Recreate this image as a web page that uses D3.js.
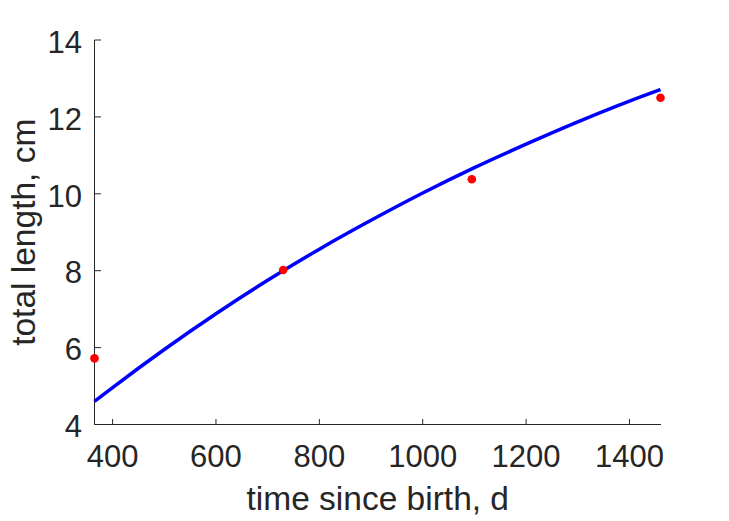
<!DOCTYPE html>
<html>
<head>
<meta charset="utf-8">
<script src="https://cdn.jsdelivr.net/npm/d3@7"></script>
<style>
  html, body { margin: 0; padding: 0; background: #fff; }
  svg { display: block; }
  text { font-family: "Liberation Sans", Arial, Helvetica, sans-serif; fill: #262626; }
</style>
</head>
<body>
<svg id="chart" width="729" height="521"></svg>
<script>
// Observed data points (age in days, total length in cm)
const obsAge = [365, 730, 1095, 1460];
const obsLength = [5.72, 8.02, 10.38, 12.5];

// Fitted growth curve
const fitAge = [365, 400, 500, 600, 700, 800, 900, 1000, 1100, 1200, 1300, 1400, 1460];
const fitLength = [4.6, 4.96, 5.95, 6.88, 7.75, 8.56, 9.31, 10.02, 10.68, 11.29, 11.87, 12.41, 12.71];

const xTicks = [400, 600, 800, 1000, 1200, 1400];
const yTicks = [4, 6, 8, 10, 12, 14];

const xLabel = "time since birth, d";
const yLabel = "total length, cm";

const svg = d3.select("#chart");
const axisColor = "#262626";

const x = d3.scaleLinear().domain([365, 1461]).range([94.5, 661]);
const y = d3.scaleLinear().domain([4, 14]).range([424.5, 40]);

// X axis
const gx = svg.append("g").attr("transform", `translate(0,${y(4)})`);
gx.append("line").attr("x1", x.range()[0]).attr("x2", x.range()[1])
  .attr("stroke", axisColor).attr("stroke-width", 1);
gx.selectAll(".tick").data(xTicks).enter().append("line")
  .attr("x1", d => x(d)).attr("x2", d => x(d)).attr("y1", 0).attr("y2", -5.5)
  .attr("stroke", axisColor).attr("stroke-width", 1);
gx.selectAll(".lbl").data(xTicks).enter().append("text")
  .attr("x", d => x(d)).attr("y", 42.5).attr("text-anchor", "middle")
  .attr("font-size", 31).text(d => d);

// Y axis
const gy = svg.append("g").attr("transform", `translate(${x(365)},0)`);
gy.append("line").attr("y1", y.range()[0]).attr("y2", y.range()[1])
  .attr("stroke", axisColor).attr("stroke-width", 1);
gy.selectAll(".tick").data(yTicks).enter().append("line")
  .attr("y1", d => y(d)).attr("y2", d => y(d)).attr("x1", 0).attr("x2", 6.5)
  .attr("stroke", axisColor).attr("stroke-width", 1);
gy.selectAll(".lbl").data(yTicks).enter().append("text")
  .attr("x", -12.5).attr("y", d => y(d)).attr("dy", "0.41em").attr("text-anchor", "end")
  .attr("font-size", 31).text(d => d);

// Axis labels
svg.append("text").attr("x", (x.range()[0] + x.range()[1]) / 2).attr("y", 510)
  .attr("text-anchor", "middle").attr("font-size", 33.5).text(xLabel);
svg.append("text").attr("transform", `translate(35,${(y.range()[0] + y.range()[1]) / 2}) rotate(-90)`)
  .attr("text-anchor", "middle").attr("font-size", 33.5).text(yLabel);

// Fitted curve
const line = d3.line().x((d, i) => x(fitAge[i])).y(d => y(d)).curve(d3.curveMonotoneX);
svg.append("path").datum(fitLength).attr("d", line)
  .attr("fill", "none").attr("stroke", "#0000ff").attr("stroke-width", 3.5);

// Observations
svg.selectAll(".pt").data(obsLength).enter().append("circle")
  .attr("cx", (d, i) => x(obsAge[i])).attr("cy", d => y(d)).attr("r", 4.3)
  .attr("fill", "#ff0000");
</script>
</body>
</html>
